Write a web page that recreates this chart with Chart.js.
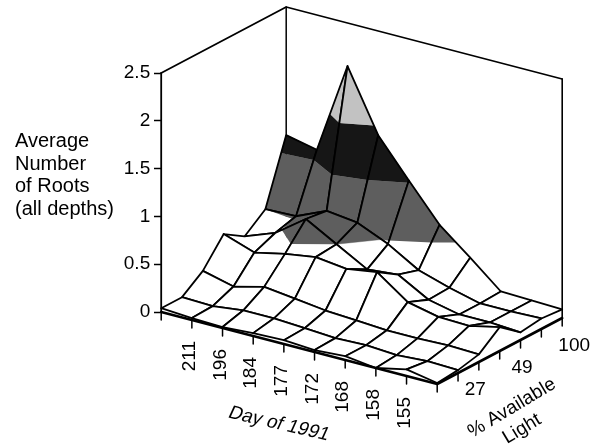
<!DOCTYPE html>
<html><head><meta charset="utf-8">
<style>html,body{margin:0;padding:0;background:#fff}#w{position:relative;width:591px;height:448px}</style>
<script src="https://cdn.jsdelivr.net/npm/chart.js@4"></script>
</head><body><div id="w"><canvas id="c" width="591" height="448"></canvas></div>
<script>
// Day ticks (blank = unlabelled first/last tick)
const dayLabels = ["", "211", "196", "184", "177", "172", "168", "158", "155", ""];
// % light ticks (blank = unlabelled)
const lightLabels = ["", "27", "", "49", "", "100", ""];
const zTicks = [0, 0.5, 1, 1.5, 2, 2.5];
const yTitle = ["Average", "Number", "of Roots", "(all depths)"];
const bandEdges = [0, 0.5, 1, 1.5, 2, 2.5];
// average number of roots, one list per day tick, along increasing light
const rootsDay0 = [0.04, 0.04, 0.20, 0.47, 0.33, 0.50, 1.16];
const rootsDay1 = [0.02, 0.03, 0.12, 0.36, 0.45, 0.51, 1.09];
const rootsDay2 = [0.01, 0.07, 0.20, 0.43, 0.68, 0.65, 2.05];
const rootsDay3 = [0.03, 0.07, 0.16, 0.48, 0.50, 0.61, 1.41];
const rootsDay4 = [0.04, 0.05, 0.12, 0.44, 0.32, 0.47, 1.02];
const rootsDay5 = [0.02, 0.03, 0.10, 0.49, 0.35, 0.28, 0.64];
const rootsDay6 = [0.04, 0.04, 0.08, 0.26, 0.17, 0.18, 0.38];
const rootsDay7 = [0.00, 0.02, 0.08, 0.19, 0.10, 0.10, 0.11];
const rootsDay8 = [0.07, 0.04, 0.09, 0.18, 0.10, 0.10, 0.10];
const rootsDay9 = [0.01, 0.03, 0.08, 0.25, 0.08, 0.11, 0.09];
const grid = [rootsDay0, rootsDay1, rootsDay2, rootsDay3, rootsDay4, rootsDay5, rootsDay6, rootsDay7, rootsDay8, rootsDay9];

// Oblique projection settings
const bandColors = ["#ffffff", "#5e5e5e", "#161616", "#c2c2c2", "#c2c2c2"];
const pxPerZ = 95.6, ox = 161.2, oy = 312;
const dxI = 276 / 9, dyI = 8, dxJ = 125 / 6, dyJ = -11;
const nI = grid.length, nJ = grid[0].length, maxI = nI - 1, maxJ = nJ - 1;

function P(i, j, z) {
  return { x: ox + i * dxI + j * dxJ, y: z - (i * dyI + j * dyJ) / pxPerZ };
}
function clipBand(poly, lo, hi) {
  function cut(pts, keep, level) {
    const out = [];
    pts.forEach((a, k) => {
      const b = pts[(k + 1) % pts.length];
      const ka = keep(a[2]), kb = keep(b[2]);
      if (ka) out.push(a);
      if (ka !== kb) {
        const t = (level - a[2]) / (b[2] - a[2]);
        out.push([a[0] + t * (b[0] - a[0]), a[1] + t * (b[1] - a[1]), level]);
      }
    });
    return out;
  }
  let r = cut(poly, z => z >= lo, lo);
  if (r.length) r = cut(r, z => z <= hi, hi);
  return r;
}
function lineDs(points, width) {
  return { data: points, showLine: true, fill: false, borderColor: "#000", borderWidth: width,
           pointRadius: 0, tension: 0, borderCapStyle: "round", borderJoinStyle: "round" };
}
const toDraw = [];
const path = (pts, w) => toDraw.push(lineDs(pts.map(p => P(p[0], p[1], p[2])), w));

// walls and floor
path([[0, 0, 2.5], [0, maxJ, 2.5], [maxI, maxJ, 2.5]], 1.8);
path([[0, maxJ, 0], [0, maxJ, 2.5]], 1.5);
path([[maxI, maxJ, 0], [maxI, maxJ, 2.5]], 1.6);
path([[0, 0, 0], [0, 0, 2.5]], 1.8);

// surface cells, back to front
for (let j = maxJ - 1; j >= 0; j--) {
  for (let i = 0; i < maxI; i++) {
    const quad = [[i, j, grid[i][j]], [i + 1, j, grid[i + 1][j]], [i + 1, j + 1, grid[i + 1][j + 1]], [i, j + 1, grid[i][j + 1]]];
    for (let b = 0; b < bandColors.length; b++) {
      const lo = b < bandEdges.length ? bandEdges[b] : 99, hi = b + 1 < bandEdges.length ? bandEdges[b + 1] : 99;
      const piece = clipBand(quad, lo, hi);
      if (piece.length > 2) {
        toDraw.push({ data: piece.map(p => P(p[0], p[1], p[2])), showLine: true, fill: "shape",
          backgroundColor: bandColors[b], borderColor: bandColors[b], borderWidth: 0.4,
          pointRadius: 0, tension: 0 });
      }
    }
    path(quad.concat([quad[0]]), 1.8);
  }
}
// floor front edges
path([[0, 0, 0], [maxI, 0, 0], [maxI, maxJ, 0]], 2.6);

// tick marks on the floor edges
const tickDrop = 8 / pxPerZ;
for (let i = 0; i < nI; i++) {
  const a = P(i, 0, 0);
  toDraw.push(lineDs([a, { x: a.x, y: a.y - tickDrop }], 1.5));
}
for (let j = 1; j < nJ; j++) {
  const a = P(maxI, j, 0);
  toDraw.push(lineDs([a, { x: a.x, y: a.y - tickDrop }], 1.5));
}

const FONT = '"Liberation Sans", Arial, sans-serif';
const textPlugin = {
  id: "texts",
  afterDraw(chart) {
    const { ctx, scales: { x, y } } = chart;
    ctx.save();
    ctx.fillStyle = "#000";
    ctx.font = "20px " + FONT;
    ctx.textAlign = "left"; ctx.textBaseline = "alphabetic";
    yTitle.forEach((t, k) => ctx.fillText(t, 15, 147 + k * 22.7));

    ctx.font = "19px " + FONT;
    ctx.textAlign = "right"; ctx.textBaseline = "middle";
    zTicks.forEach(v => ctx.fillText(String(v), x.getPixelForValue(ox) - 11, y.getPixelForValue(v)));

    dayLabels.forEach((t, i) => {
      if (!t) return;
      const a = P(i, 0, 0);
      ctx.save();
      ctx.translate(x.getPixelForValue(a.x) - 2, y.getPixelForValue(a.y) + 21);
      ctx.rotate(-Math.PI / 2);
      ctx.textAlign = "right"; ctx.textBaseline = "middle";
      ctx.fillText(t, 0, 0);
      ctx.restore();
    });
    lightLabels.forEach((t, j) => {
      if (!t) return;
      const a = P(maxI, j, 0);
      ctx.textAlign = "left"; ctx.textBaseline = "middle";
      ctx.fillText(t, x.getPixelForValue(a.x) + 4 + j * 2.6, y.getPixelForValue(a.y) + 17);
    });
    function rotated(t, cx, cy, deg, skew) {
      ctx.save();
      ctx.translate(cx, cy);
      ctx.rotate(deg * Math.PI / 180);
      if (skew) ctx.transform(1, 0, skew, 1, 0, 0);
      ctx.textAlign = "center"; ctx.textBaseline = "middle";
      ctx.fillText(t, 0, 0);
      ctx.restore();
    }
    rotated("Day of 1991", 279, 424, 13, -0.2);
    rotated("% Available", 512, 408, -31, 0);
    rotated("Light", 522, 429, -31, 0);
    ctx.restore();
  }
};

new Chart(document.getElementById("c"), {
  type: "scatter",
  data: { datasets: toDraw.slice().reverse() },
  plugins: [textPlugin],
  options: {
    responsive: false, animation: false, events: [],
    layout: { padding: 0 },
    plugins: { legend: { display: false }, tooltip: { enabled: false }, title: { display: false } },
    scales: {
      x: { type: "linear", display: false, min: 0, max: 591 },
      y: {
        type: "linear", min: -(448 - oy) / pxPerZ, max: oy / pxPerZ,
        position: { x: ox },
        afterBuildTicks(s) { s.ticks = zTicks.map(v => ({ value: v })); },
        afterFit(s) { s.paddingTop = 0; s.paddingBottom = 0; s.paddingLeft = 0; s.paddingRight = 0; },
        border: { display: false },
        grid: { drawOnChartArea: false, drawTicks: true, tickLength: 7, tickColor: "#000", tickWidth: 1.5 },
        ticks: { display: false, autoSkip: false }
      }
    }
  }
});
</script></body></html>
